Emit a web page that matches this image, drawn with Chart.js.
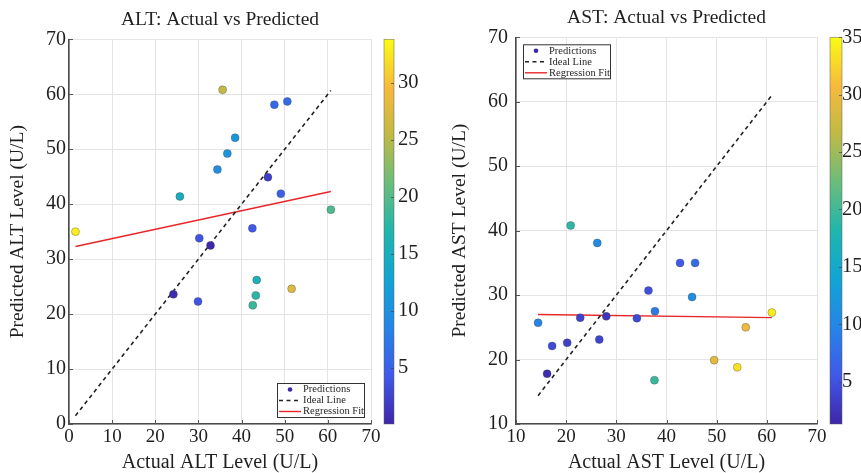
<!DOCTYPE html>
<html>
<head>
<meta charset="utf-8">
<script src="https://cdn.jsdelivr.net/npm/chart.js@4.4.0/dist/chart.umd.min.js"></script>
<style>
  html, body { margin: 0; padding: 0; background: #fff; }
  #wrap { position: relative; width: 861px; height: 473px; overflow: hidden; }
  canvas { position: absolute; top: 0; }
  #chart-alt { left: 0; }
  #chart-ast { left: 430px; }
</style>
</head>
<body>
<div id="wrap">
  <canvas id="chart-alt" width="430" height="473"></canvas>
  <canvas id="chart-ast" width="431" height="473"></canvas>
</div>
<script>
"use strict";

// ALT panel
const altActual = [35.6, 47.6, 50.6, 38.5, 36.7, 34.4, 46.1, 49.1, 25.7, 60.7,
                   1.5, 42.5, 30.2, 32.8, 24.2, 29.9, 43.5, 43.3, 42.6, 51.6];
const altPredicted = [60.8, 58.1, 58.7, 52.1, 49.2, 46.3, 44.9, 41.9, 41.4, 39.0,
                      35.0, 35.6, 33.8, 32.5, 23.6, 22.3, 26.2, 23.4, 21.6, 24.6];
const altColour = [25.5, 6, 6, 11, 10.5, 9.5, 2, 5, 15, 19.5,
                   33, 4.5, 4, 0.3, 0.6, 4, 16, 17.5, 18.5, 27.5];
const altFitY = [32.3, 42.3];
const altTicks = [0, 10, 20, 30, 40, 50, 60, 70];
const altColourRange = [0.1, 33.8];
const altColourTicks = [5, 10, 15, 20, 25, 30];

// AST panel
const astActual = [20.9, 26.2, 42.7, 45.7, 36.4, 45.1, 37.7, 28.0, 22.8, 34.1,
                   61.0, 14.4, 55.8, 17.2, 20.2, 26.6, 49.5, 54.1, 16.2, 37.6];
const astPredicted = [40.8, 38.1, 35.0, 35.0, 30.7, 29.7, 27.5, 26.7, 26.5, 26.4,
                      27.3, 25.7, 25.0, 22.1, 22.6, 23.1, 19.9, 18.8, 17.8, 16.8];
const astColour = [19, 10.7, 5.7, 7.4, 4.7, 11, 8.7, 2.6, 3.7, 4.3,
                   34, 9.7, 30, 4.3, 3.4, 3.8, 29.3, 33.3, 1.8, 19.5];
const astFitY = [27.0, 26.5];
const astTicks = [10, 20, 30, 40, 50, 60, 70];
const astColourRange = [1.3, 35];
const astColourTicks = [5, 10, 15, 20, 25, 30, 35];

// parula-like colour map
const PARULA = ["#3e26a8", "#4058e8", "#2585e6", "#12a4d4", "#20b5ad",
                "#6abd7c", "#c0b945", "#f7ba3c", "#f9fb15"];
const SERIF = "'Liberation Serif', 'DejaVu Serif', serif";
const TEXT = "#1f1f1f";

function hexRgb(h) {
  return [1, 3, 5].map((i) => parseInt(h.slice(i, i + 2), 16));
}

function parula(t) {
  t = Math.max(0, Math.min(1, t));
  const p = t * (PARULA.length - 1);
  const i = Math.min(Math.floor(p), PARULA.length - 2);
  const f = p - i;
  const a = hexRgb(PARULA[i]), b = hexRgb(PARULA[i + 1]);
  const c = a.map((v, k) => Math.round(v + (b[k] - v) * f));
  return "rgb(" + c.join(",") + ")";
}

const extras = {
  id: "extras",
  afterDraw(chart, args, o) {
    const ctx = chart.ctx;
    const area = chart.chartArea;
    ctx.save();

    // inward tick marks
    ctx.strokeStyle = "#555";
    ctx.lineWidth = 1;
    ctx.beginPath();
    for (const t of chart.scales.x.ticks) {
      const px = Math.round(chart.scales.x.getPixelForValue(t.value)) + 0.5;
      ctx.moveTo(px, area.bottom);
      ctx.lineTo(px, area.bottom - 4);
    }
    for (const t of chart.scales.y.ticks) {
      const py = Math.round(chart.scales.y.getPixelForValue(t.value)) + 0.5;
      ctx.moveTo(area.left, py);
      ctx.lineTo(area.left + 4, py);
    }
    ctx.stroke();

    // colorbar
    const cs = chart.scales.c;
    const x0 = cs.left + o.barOffset;
    const top = cs.getPixelForValue(cs.max);
    const bot = cs.getPixelForValue(cs.min);
    const g = ctx.createLinearGradient(0, bot, 0, top);
    PARULA.forEach((c, i) => g.addColorStop(i / (PARULA.length - 1), c));
    ctx.fillStyle = g;
    ctx.fillRect(x0, top, o.barWidth, bot - top);
    ctx.strokeStyle = "rgba(90,90,90,0.7)";
    ctx.lineWidth = 0.7;
    ctx.strokeRect(x0, top, o.barWidth, bot - top);
    ctx.beginPath();
    for (const t of cs.ticks) {
      const py = Math.round(cs.getPixelForValue(t.value)) + 0.5;
      ctx.moveTo(x0 + o.barWidth, py);
      ctx.lineTo(x0 + o.barWidth - 3, py);
    }
    ctx.strokeStyle = "#444";
    ctx.stroke();

    // legend box
    const w = 87, h = 34;
    const bx = o.legendCorner === "br" ? area.right - 7 - w : area.left + 7;
    const by = o.legendCorner === "br" ? area.bottom - 7 - h : area.top + 7;
    ctx.fillStyle = "#fff";
    ctx.fillRect(bx, by, w, h);
    ctx.strokeStyle = "#333";
    ctx.lineWidth = 1;
    ctx.strokeRect(bx + 0.5, by + 0.5, w, h);
    ctx.font = "10.5px " + SERIF;
    ctx.textBaseline = "middle";
    ctx.fillStyle = TEXT;
    chart.data.datasets.forEach((ds, i) => {
      const ry = by + 6.5 + i * 11;
      if (ds.showLine) {
        ctx.beginPath();
        ctx.setLineDash(ds.borderDash || []);
        ctx.strokeStyle = ds.borderColor;
        ctx.lineWidth = ds.borderWidth;
        ctx.moveTo(bx + 2, ry);
        ctx.lineTo(bx + 24, ry);
        ctx.stroke();
        ctx.setLineDash([]);
      } else {
        ctx.beginPath();
        ctx.fillStyle = PARULA[0];
        ctx.arc(bx + 13, ry, 2.3, 0, Math.PI * 2);
        ctx.fill();
      }
      ctx.fillStyle = TEXT;
      ctx.fillText(ds.label, bx + 26, ry);
    });
    ctx.restore();
  },
};

function makePanel(id, p) {
  const lo = Math.min(...p.actual), hi = Math.max(...p.actual);
  const [cmin, cmax] = p.range;
  const axisTicks = (s) => { s.ticks = p.ticks.map((v) => ({ value: v })); };
  return new Chart(document.getElementById(id), {
    type: "scatter",
    data: {
      datasets: [
        {
          label: "Predictions",
          data: p.actual.map((x, i) => ({ x, y: p.predicted[i] })),
          pointBackgroundColor: p.colour.map((c) => parula((c - cmin) / (cmax - cmin))),
          pointBorderColor: "rgba(70,70,70,0.5)",
          pointBorderWidth: 0.7,
          pointRadius: 4,
          order: 0,
        },
        {
          label: "Ideal Line",
          data: [{ x: lo, y: lo }, { x: hi, y: hi }],
          showLine: true,
          borderColor: "#222",
          borderWidth: 1.6,
          borderDash: [4, 3.5],
          pointRadius: 0,
          order: 1,
        },
        {
          label: "Regression Fit",
          data: [{ x: lo, y: p.fit[0] }, { x: hi, y: p.fit[1] }],
          showLine: true,
          borderColor: "#e8262a",
          borderWidth: 1.4,
          pointRadius: 0,
          order: 2,
        },
      ],
    },
    options: {
      responsive: false,
      animation: false,
      events: [],
      layout: { padding: 0 },
      plugins: {
        legend: { display: false },
        tooltip: { enabled: false },
        title: {
          display: true,
          text: p.title,
          fullSize: false,
          color: TEXT,
          font: { family: SERIF, size: 19.5, weight: "normal", lineHeight: 1.2 },
          padding: { top: 2, bottom: 33 - 2 - 19.5 * 1.2 },
        },
        extras: { barOffset: p.barOffset, barWidth: p.barWidth, legendCorner: p.legendCorner },
      },
      scales: {
        x: {
          type: "linear",
          min: p.ticks[0],
          max: p.ticks[p.ticks.length - 1],
          afterBuildTicks: axisTicks,
          afterFit: (s) => { s.height = 49; },
          ticks: { autoSkip: false, maxRotation: 0, padding: 2, color: TEXT,
                   font: { family: SERIF, size: 19 } },
          grid: { color: "#e4e4e4", drawTicks: false },
          border: { color: "#4a4a4a", width: 1.6 },
          title: { display: true, text: p.xTitle, color: TEXT, padding: { top: 0, bottom: 0.5 },
                   font: { family: SERIF, size: 20, lineHeight: 1 } },
        },
        y: {
          type: "linear",
          position: "left",
          min: p.ticks[0],
          max: p.ticks[p.ticks.length - 1],
          afterBuildTicks: axisTicks,
          afterFit: (s) => { s.width = p.yWidth; },
          ticks: { autoSkip: false, padding: p.yPad, color: TEXT,
                   font: { family: SERIF, size: 20 } },
          grid: { color: "#e4e4e4", drawTicks: false },
          border: { color: "#4a4a4a", width: 1.6 },
          title: { display: true, text: p.yTitle, color: TEXT, padding: { top: p.yTitlePad, bottom: 0 },
                   font: { family: SERIF, size: 19.5, lineHeight: 1 } },
        },
        c: {
          type: "linear",
          position: "right",
          min: cmin,
          max: cmax,
          afterBuildTicks: (s) => { s.ticks = p.colourTicks.map((v) => ({ value: v })); },
          afterFit: (s) => { s.width = p.cbWidth; },
          ticks: { autoSkip: false, padding: p.cbPad, color: TEXT,
                   font: { family: SERIF, size: 20.5 } },
          grid: { display: false, drawTicks: false },
          border: { display: false },
        },
      },
    },
    plugins: [extras],
  });
}

makePanel("chart-alt", {
  title: "ALT: Actual vs Predicted",
  xTitle: "Actual ALT Level (U/L)",
  yTitle: "Predicted ALT Level (U/L)",
  actual: altActual, predicted: altPredicted, colour: altColour, fit: altFitY,
  ticks: altTicks, range: altColourRange, colourTicks: altColourTicks,
  yWidth: 69, yPad: 3, yTitlePad: 8.5, cbWidth: 59, cbPad: 27, barOffset: 13, barWidth: 10,
  legendCorner: "br",
});

makePanel("chart-ast", {
  title: "AST: Actual vs Predicted",
  xTitle: "Actual AST Level (U/L)",
  yTitle: "Predicted AST Level (U/L)",
  actual: astActual, predicted: astPredicted, colour: astColour, fit: astFitY,
  ticks: astTicks, range: astColourRange, colourTicks: astColourTicks,
  yWidth: 86, yPad: 8, yTitlePad: 20.5, cbWidth: 44, cbPad: 25, barOffset: 13, barWidth: 12,
  legendCorner: "tl",
});
</script>
</body>
</html>
